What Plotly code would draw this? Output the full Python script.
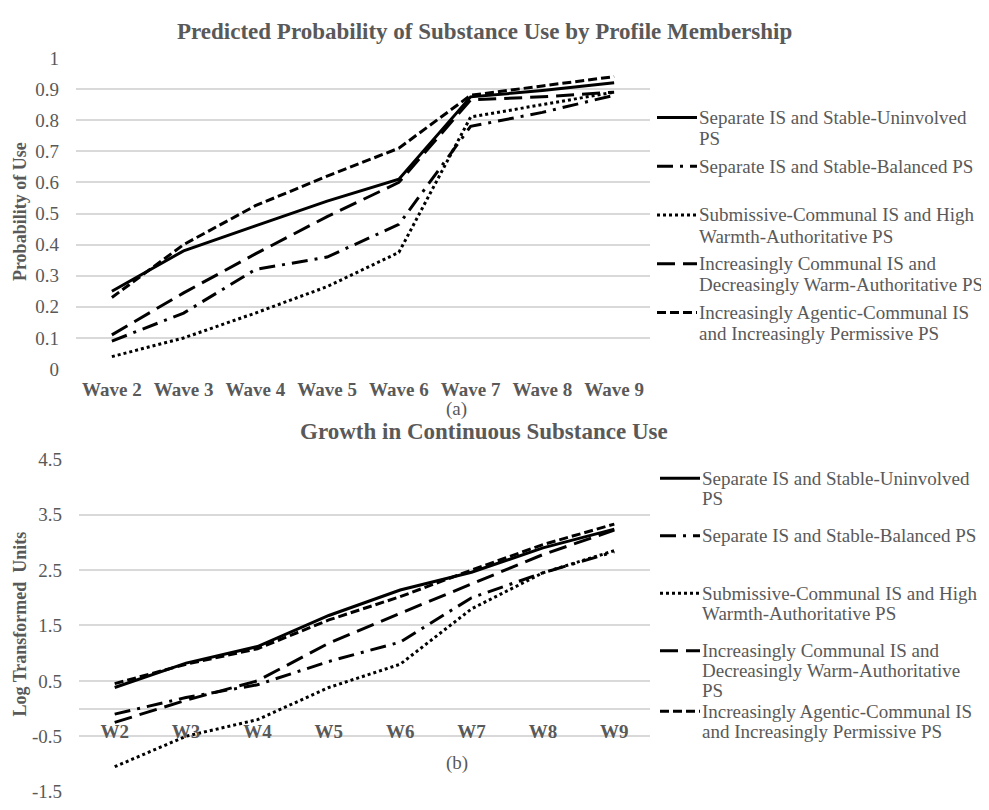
import plotly.graph_objects as go

# ---------------- data ----------------
waves_top = ["Wave 2", "Wave 3", "Wave 4", "Wave 5", "Wave 6", "Wave 7", "Wave 8", "Wave 9"]
waves_bottom = ["W2", "W3", "W4", "W5", "W6", "W7", "W8", "W9"]

series_names = [
    "Separate IS and Stable-Uninvolved PS",
    "Separate IS and Stable-Balanced PS",
    "Submissive-Communal IS and High Warmth-Authoritative PS",
    "Increasingly Communal IS and Decreasingly Warm-Authoritative PS",
    "Increasingly Agentic-Communal IS and Increasingly Permissive PS",
]

# (a) predicted probability of use
prob_uninvolved = [0.25, 0.38, 0.46, 0.54, 0.61, 0.875, 0.895, 0.92]
prob_balanced = [0.09, 0.18, 0.32, 0.36, 0.465, 0.78, 0.825, 0.88]
prob_submissive = [0.04, 0.10, 0.18, 0.265, 0.375, 0.81, 0.85, 0.89]
prob_communal = [0.11, 0.245, 0.37, 0.49, 0.60, 0.865, 0.875, 0.89]
prob_agentic = [0.23, 0.40, 0.525, 0.62, 0.71, 0.88, 0.91, 0.94]

# (b) log transformed units
log_uninvolved = [0.38, 0.82, 1.12, 1.68, 2.14, 2.46, 2.90, 3.24]
log_balanced = [-0.10, 0.20, 0.43, 0.85, 1.20, 2.00, 2.45, 2.83]
log_submissive = [-1.05, -0.50, -0.20, 0.38, 0.80, 1.80, 2.45, 2.85]
log_communal = [-0.25, 0.15, 0.50, 1.18, 1.72, 2.25, 2.78, 3.22]
log_agentic = [0.45, 0.80, 1.08, 1.60, 2.02, 2.50, 2.96, 3.33]

top_ytick_vals = [0, 0.1, 0.2, 0.3, 0.4, 0.5, 0.6, 0.7, 0.8, 0.9, 1]
top_ytick_text = ["0", "0.1", "0.2", "0.3", "0.4", "0.5", "0.6", "0.7", "0.8", "0.9", "1"]
bot_ytick_vals = [-1.5, -0.5, 0.5, 1.5, 2.5, 3.5, 4.5]
bot_ytick_text = ["-1.5", "-0.5", "0.5", "1.5", "2.5", "3.5", "4.5"]

title_top = "Predicted Probability of Substance Use by Profile Membership"
title_bottom = "Growth in Continuous Substance Use"
ytitle_top = "Probability of Use"
ytitle_bottom = "Log Transformed  Units"

legend_lines_top = [
    ["Separate IS and Stable-Uninvolved", "PS"],
    ["Separate IS and Stable-Balanced PS"],
    ["Submissive-Communal IS and High", "Warmth-Authoritative PS"],
    ["Increasingly Communal IS and", "Decreasingly Warm-Authoritative PS"],
    ["Increasingly Agentic-Communal IS", "and Increasingly Permissive PS"],
]
legend_lines_bottom = [
    ["Separate IS and Stable-Uninvolved", "PS"],
    ["Separate IS and Stable-Balanced PS"],
    ["Submissive-Communal IS and High", "Warmth-Authoritative PS"],
    ["Increasingly Communal IS and", "Decreasingly Warm-Authoritative", "PS"],
    ["Increasingly Agentic-Communal IS", "and Increasingly Permissive PS"],
]

# ---------------- styling ----------------
WIN_W, WIN_H = 989, 810
OFF = 8  # default page body margin
W, H = WIN_W - OFF, WIN_H - OFF
FONT = "Liberation Serif"
GRAY = "#595959"
GRID = "#d9d9d9"
dashes = ["solid", "16px,7px,3px,7px", "3px,3px", "18px,8px", "9px,4px"]
LW = 3


def px(x):
    return (x - OFF) / W


def py(y):
    return 1 - (y - OFF) / H


fig = go.Figure()

top_series = [prob_uninvolved, prob_balanced, prob_submissive, prob_communal, prob_agentic]
bot_series = [log_uninvolved, log_balanced, log_submissive, log_communal, log_agentic]

for name, vals, dsh in zip(series_names, top_series, dashes):
    fig.add_trace(go.Scatter(x=waves_top, y=vals, mode="lines", name=name,
                             line=dict(color="black", width=LW, dash=dsh),
                             xaxis="x", yaxis="y", showlegend=False))
for name, vals, dsh in zip(series_names, bot_series, dashes):
    fig.add_trace(go.Scatter(x=waves_bottom, y=vals, mode="lines", name=name,
                             line=dict(color="black", width=LW, dash=dsh),
                             xaxis="x2", yaxis="y2", showlegend=False))

tickfont_bold = dict(family=FONT, size=19, color=GRAY, weight="bold")
tickfont_reg = dict(family=FONT, size=19, color=GRAY)

bot_dom = [py(802), py(460)]
zero_pos = bot_dom[0] + (0 - (-1.5)) / 6.0 * (bot_dom[1] - bot_dom[0])

fig.update_layout(
    width=W, height=H,
    margin=dict(l=0, r=0, t=0, b=0),
    paper_bgcolor="white", plot_bgcolor="white",
    xaxis=dict(domain=[px(76), px(650)], anchor="y", type="category",
               categoryorder="array", categoryarray=waves_top,
               range=[-0.5, 7.5], showgrid=False, zeroline=False, showline=False,
               tickfont=tickfont_bold, ticks="", ticklabelstandoff=6, fixedrange=True),
    yaxis=dict(domain=[py(369), py(48)], anchor="x", range=[-0.003, 1.003],
               tickvals=top_ytick_vals, ticktext=top_ytick_text,
               showgrid=True, gridcolor=GRID, gridwidth=1.5, zeroline=False, showline=False,
               tickfont=tickfont_reg, ticks="", ticklabelstandoff=16, fixedrange=True),
    xaxis2=dict(domain=[px(79), px(650)], anchor="free", position=zero_pos, type="category",
                categoryorder="array", categoryarray=waves_bottom,
                range=[-0.5, 7.5], showgrid=False, zeroline=False, showline=False,
                tickfont=tickfont_bold, ticks="", ticklabelstandoff=9, fixedrange=True),
    yaxis2=dict(domain=bot_dom, anchor="x2", range=[-1.51, 4.51],
                tickvals=bot_ytick_vals, ticktext=bot_ytick_text,
                showgrid=True, gridcolor=GRID, gridwidth=1.5,
                zeroline=True, zerolinecolor=GRID, zerolinewidth=1.5, showline=False,
                tickfont=tickfont_reg, ticks="", ticklabelstandoff=16, fixedrange=True),
    showlegend=False,
)

annotations = [
    dict(text=title_top, x=px(484), y=py(22), xref="paper", yref="paper",
         xanchor="center", yanchor="middle", showarrow=False,
         font=dict(family=FONT, size=23, color=GRAY, weight="bold")),
    dict(text=title_bottom, x=px(484), y=py(432), xref="paper", yref="paper",
         xanchor="center", yanchor="middle", showarrow=False,
         font=dict(family=FONT, size=23, color=GRAY, weight="bold")),
    dict(text=ytitle_top, x=px(20), y=py(207), xref="paper", yref="paper", textangle=-90,
         xanchor="center", yanchor="middle", showarrow=False,
         font=dict(family=FONT, size=18, color=GRAY, weight="bold")),
    dict(text=ytitle_bottom, x=px(20), y=py(630), xref="paper", yref="paper", textangle=-90,
         xanchor="center", yanchor="middle", showarrow=False,
         font=dict(family=FONT, size=18, color=GRAY, weight="bold")),
    dict(text="(a)", x=px(456), y=py(409), xref="paper", yref="paper",
         xanchor="center", yanchor="middle", showarrow=False,
         font=dict(family=FONT, size=19, color=GRAY)),
    dict(text="(b)", x=px(457), y=py(772), xref="paper", yref="paper",
         xanchor="center", yanchor="middle", showarrow=False,
         font=dict(family=FONT, size=19, color=GRAY)),
]

shapes = []


def add_legend(lines_list, first_ys, spacing, x_line0, x_line1, x_text):
    for lines, y0, dsh in zip(lines_list, first_ys, dashes):
        shapes.append(dict(type="line", xref="paper", yref="paper",
                           x0=px(x_line0), x1=px(x_line1), y0=py(y0), y1=py(y0),
                           line=dict(color="black", width=LW, dash=dsh)))
        for k, t in enumerate(lines):
            annotations.append(dict(text=t, x=px(x_text), y=py(y0 + k * spacing),
                                    xref="paper", yref="paper", xanchor="left",
                                    yanchor="middle", showarrow=False,
                                    font=dict(family=FONT, size=19, color=GRAY)))


add_legend(legend_lines_top, [110, 160, 210, 260, 310], 21.7, 657, 697, 697)
add_legend(legend_lines_bottom, [480, 539, 598, 657, 719], 20.5, 660, 700, 700)

fig.update_layout(annotations=annotations, shapes=shapes)

fig.write_html("out.html")
